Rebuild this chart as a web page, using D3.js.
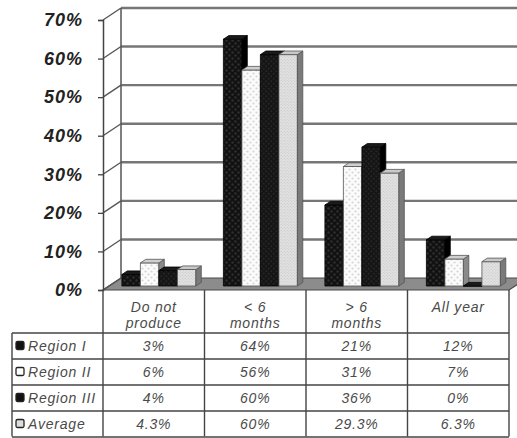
<!DOCTYPE html>
<html>
<head>
<meta charset="utf-8">
<script src="https://cdn.jsdelivr.net/npm/d3@7"></script>
<style>
  body { margin: 0; background: #fff; }
  svg { display: block; font-family: "Liberation Sans", Arial, sans-serif; }
</style>
</head>
<body>
<svg id="chart" width="517" height="438"></svg>
<script>
// chart data
var categories = ["Do not produce", "< 6 months", "> 6 months", "All year"];
var headerLines = [["Do not", "produce"], ["< 6", "months"], ["> 6", "months"], ["All year"]];
var seriesNames = ["Region I", "Region II", "Region III", "Average"];
var regionI = [3, 64, 21, 12];
var regionII = [6, 56, 31, 7];
var regionIII = [4, 60, 36, 0];
var average = [4.3, 60, 29.3, 6.3];
var yTicks = [0, 10, 20, 30, 40, 50, 60, 70];

var seriesValues = [regionI, regionII, regionIII, average];

// looks of each series: front, side, top, stroke
var looks = [
  { front: "url(#dotBlack)", side: "#000", top: "#1a1a1a", stroke: "#000", key: "#111" },
  { front: "url(#dotWhite)", side: "#8a8a8a", top: "#cfcfcf", stroke: "#555", key: "#fff" },
  { front: "url(#dotBlack2)", side: "#000", top: "#1a1a1a", stroke: "#000", key: "#111" },
  { front: "url(#dotGray)", side: "#7a7a7a", top: "#c8c8c8", stroke: "#555", key: "#ddd" }
];

var svg = d3.select("#chart");

var DX = 18, DY = -12;          // depth of the floor / walls
var z0 = 0.33, z1 = 0.63;        // bar depth inside the floor

var x = d3.scaleBand().domain(categories).range([103, 509]);
var y = d3.scaleLinear().domain([0, 70]).range([290, 20]);
var xs = d3.scaleBand().domain(seriesNames).range([13, 87]);

function p(xv, v, z) {
  return [xv + z * DX, y(v) + z * DY];
}
function pts(a) {
  return a.map(function (d) { return d[0].toFixed(1) + "," + d[1].toFixed(1); }).join(" ");
}

// patterns
var defs = svg.append("defs");
function dotPattern(id, bg, dot, size, r) {
  var pat = defs.append("pattern")
    .attr("id", id)
    .attr("width", size)
    .attr("height", size)
    .attr("patternUnits", "userSpaceOnUse");
  pat.append("rect").attr("width", size).attr("height", size).attr("fill", bg);
  pat.append("circle").attr("cx", size / 4).attr("cy", size / 4).attr("r", r).attr("fill", dot);
  pat.append("circle").attr("cx", size * 3 / 4).attr("cy", size * 3 / 4).attr("r", r).attr("fill", dot);
}
dotPattern("dotBlack", "#111", "#2e2e2e", 6, 1.2);
dotPattern("dotBlack2", "#151515", "#262626", 5, 1);
dotPattern("dotWhite", "#fbfbfb", "#d6d6d6", 6, 1.1);
dotPattern("dotGray", "#e2e2e2", "#c4c4c4", 3, 0.6);

var x0 = x.range()[0], x1 = x.range()[1];

// floor
svg.append("polygon")
  .attr("points", pts([p(x0, 0, 0), p(x1, 0, 0), p(x1, 0, 1), p(x0, 0, 1)]))
  .attr("fill", "#8c8c8c")
  .attr("stroke", "#4a4a4a")
  .attr("stroke-width", 1.2);

// back wall gridlines
svg.append("g").selectAll("line")
  .data(yTicks.slice(1))
  .enter().append("line")
  .attr("x1", p(x0, 0, 1)[0])
  .attr("x2", p(x1, 0, 1)[0])
  .attr("y1", function (d) { return p(x0, d, 1)[1]; })
  .attr("y2", function (d) { return p(x0, d, 1)[1]; })
  .attr("stroke", "#767676")
  .attr("stroke-width", 2.4);

// left wall: diagonals
svg.append("g").selectAll("line")
  .data(yTicks)
  .enter().append("line")
  .attr("x1", x0)
  .attr("y1", function (d) { return y(d); })
  .attr("x2", p(x0, 0, 1)[0])
  .attr("y2", function (d) { return p(x0, d, 1)[1]; })
  .attr("stroke", "#555")
  .attr("stroke-width", 1.3);

// left wall verticals
svg.append("line")
  .attr("x1", p(x0, 0, 1)[0]).attr("x2", p(x0, 0, 1)[0])
  .attr("y1", p(x0, 70, 1)[1]).attr("y2", p(x0, 0, 1)[1])
  .attr("stroke", "#555").attr("stroke-width", 1.5);

// y axis
var yAxis = d3.axisLeft(y).tickValues(yTicks).tickSize(5).tickFormat(function (d) { return d + "%"; });
var ag = svg.append("g")
  .attr("transform", "translate(" + x0 + ",0)")
  .call(yAxis);
ag.select(".domain").attr("stroke", "#444").attr("stroke-width", 1.5);
ag.selectAll(".tick line").attr("stroke", "#444").attr("stroke-width", 1.3);
ag.selectAll(".tick text")
  .attr("x", -20)
  .attr("font-family", "'Liberation Sans', Arial, sans-serif")
  .attr("font-size", 18)
  .attr("letter-spacing", 1)
  .attr("font-weight", "bold")
  .attr("font-style", "italic")
  .attr("fill", "#222");

// bars
var bars = svg.append("g");
categories.forEach(function (c, ci) {
  seriesNames.forEach(function (s, si) {
    var v = seriesValues[si][ci];
    var xl = x(c) + xs(s), xr = xl + xs.bandwidth();
    var lk = looks[si];
    var g = bars.append("g");
    g.append("polygon")
      .attr("points", pts([p(xl, 0, z0), p(xr, 0, z0), p(xr, v, z0), p(xl, v, z0)]))
      .attr("fill", lk.front).attr("stroke", lk.stroke).attr("stroke-width", 0.8);
    g.append("polygon")
      .attr("points", pts([p(xr, 0, z0), p(xr, 0, z1), p(xr, v, z1), p(xr, v, z0)]))
      .attr("fill", lk.side).attr("stroke", lk.stroke).attr("stroke-width", 0.8);
    g.append("polygon")
      .attr("points", pts([p(xl, v, z0), p(xr, v, z0), p(xr, v, z1), p(xl, v, z1)]))
      .attr("fill", lk.top).attr("stroke", lk.stroke).attr("stroke-width", 0.8);
  });
});

// data table
var rowTop = 333, rowH = 26, legendLeft = 12;
var tableBottom = rowTop + rowH * seriesNames.length - 0.5;
var table = svg.append("g")
  .attr("font-family", "'Liberation Sans', Arial, sans-serif")
  .attr("font-style", "italic")
  .attr("font-size", 14)
  .attr("letter-spacing", 0.8)
  .attr("fill", "#4a4a4a");

// vertical lines of the category columns
var colEdges = categories.map(function (c) { return x(c); }).concat([x1]);
table.selectAll("line.col")
  .data(colEdges)
  .enter().append("line")
  .attr("x1", function (d) { return d; })
  .attr("x2", function (d) { return d; })
  .attr("y1", y(0))
  .attr("y2", tableBottom)
  .attr("stroke", "#444").attr("stroke-width", 1.4);

// horizontal lines
table.selectAll("line.row")
  .data(d3.range(seriesNames.length + 1))
  .enter().append("line")
  .attr("x1", legendLeft)
  .attr("x2", x1)
  .attr("y1", function (i) { return rowTop + i * rowH; })
  .attr("y2", function (i) { return rowTop + i * rowH; })
  .attr("stroke", "#444").attr("stroke-width", 1.4);

table.append("line")
  .attr("x1", legendLeft).attr("x2", legendLeft)
  .attr("y1", rowTop).attr("y2", tableBottom)
  .attr("stroke", "#444").attr("stroke-width", 1.4);

// header text
categories.forEach(function (c, ci) {
  var t = table.append("text")
    .attr("x", x(c) + x.bandwidth() / 2)
    .attr("y", 312)
    .attr("text-anchor", "middle");
  headerLines[ci].forEach(function (ln, li) {
    t.append("tspan")
      .attr("x", x(c) + x.bandwidth() / 2)
      .attr("dy", li === 0 ? 0 : 16)
      .text(ln);
  });
});

// rows
seriesNames.forEach(function (s, si) {
  var cy = rowTop + si * rowH + rowH / 2;
  table.append("rect")
    .attr("x", 16).attr("y", cy - 4.5)
    .attr("width", 8).attr("height", 8)
    .attr("rx", 1.5)
    .attr("fill", looks[si].key)
    .attr("stroke", "#222").attr("stroke-width", 1.3);
  table.append("text")
    .attr("x", 28).attr("y", cy + 5)
    .text(s);
  categories.forEach(function (c, ci) {
    table.append("text")
      .attr("x", x(c) + x.bandwidth() / 2)
      .attr("y", cy + 5)
      .attr("text-anchor", "middle")
      .text(seriesValues[si][ci] + "%");
  });
});
</script>
</body>
</html>
